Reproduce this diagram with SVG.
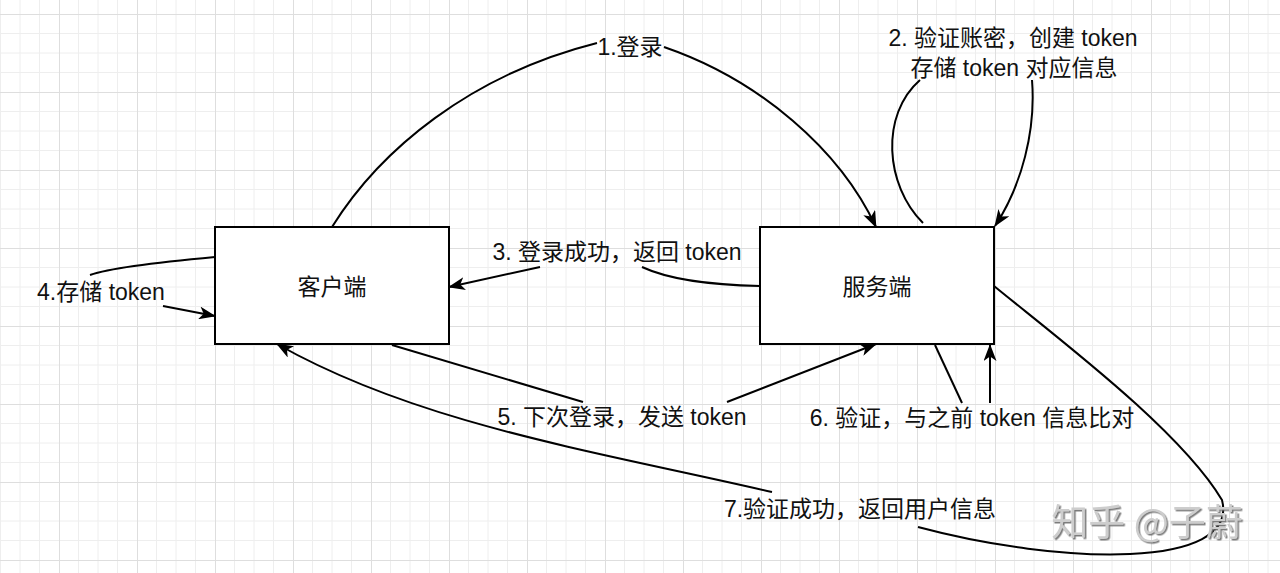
<svg xmlns="http://www.w3.org/2000/svg" width="1280" height="573" viewBox="0 0 1280 573">
<defs>
<pattern id="grid" x="59" y="14" width="78" height="78" patternUnits="userSpaceOnUse">
<path d="M19.5,0 V78 M39,0 V78 M58.5,0 V78 M0,19.5 H78 M0,39 H78 M0,58.5 H78" stroke="#eeeeee" stroke-width="1" fill="none"/>
<path d="M0.5,0 V78 M0,0.5 H78" stroke="#dedede" stroke-width="1" fill="none"/>
</pattern>
<marker id="arrow" viewBox="0 0 17 13" refX="16" refY="6.5" markerWidth="17" markerHeight="13" markerUnits="userSpaceOnUse" orient="auto">
<path d="M0,0 L17,6.5 L0,13 L4.5,6.5 z" fill="#000"/>
</marker>
<filter id="wmshadow" x="-10%" y="-20%" width="120%" height="150%">
<feDropShadow dx="1.5" dy="1.5" stdDeviation="0.5" flood-color="#6e6e6e" flood-opacity="0.9"/>
</filter>
</defs>
<style>
.node rect{fill:#fff;stroke:#000;stroke-width:2}
.lbl{font-family:"Liberation Sans","Noto Sans CJK SC",sans-serif;font-size:23px;fill:#111;text-anchor:middle}
.edge{fill:none;stroke:#000;stroke-width:2}
.arr{marker-end:url(#arrow)}
.wm{font-family:"Noto Sans CJK SC",sans-serif;font-size:37px;fill:#cdcdcd;text-anchor:middle}
</style>
<rect x="0" y="0" width="1280" height="573" fill="#fff"/>
<rect x="0" y="0" width="1280" height="573" fill="url(#grid)"/>

<g id="connectors">
<path class="edge" d="M332,227 C380,150 470,75 597,43"/>
<path class="edge arr" d="M664,47 C760,80 840,150 876,227"/>
<path class="edge" d="M923,223 C885,185 880,115 920,80"/>
<path class="edge arr" d="M1032,80 C1036,130 1022,185 995,226"/>
<path class="edge" d="M760,286 C710,285 670,280 642,267"/>
<path class="edge arr" d="M540,267 L449,287"/>
<path class="edge" d="M215,257 C160,262 110,268 90,275"/>
<path class="edge arr" d="M163,306 L215,316"/>
<path class="edge" d="M392,345 L583,402"/>
<path class="edge arr" d="M727,402 L876,344"/>
<path class="edge" d="M935,345 L962,403"/>
<path class="edge arr" d="M990,403 L990,345"/>
<path class="edge" d="M994,286 C1060,340 1180,430 1222,500 C1240,570 1060,565 918,527"/>
<path class="edge arr" d="M772,492 C600,452 420,425 277,344"/>
</g>

<g id="client" class="node">
<rect x="215" y="227" width="234" height="117"/>
<text class="lbl" x="332" y="295">客户端</text>
</g>
<g id="server" class="node">
<rect x="760" y="227" width="234" height="117"/>
<text class="lbl" x="877" y="295">服务端</text>
</g>

<g id="labels">
<text class="lbl" x="630" y="55">1.登录</text>
<text class="lbl" x="1013" y="46">2. 验证账密，创建 token</text>
<text class="lbl" x="1014" y="76">存储 token 对应信息</text>
<text class="lbl" x="617" y="260">3. 登录成功，返回 token</text>
<text class="lbl" x="101" y="300">4.存储 token</text>
<text class="lbl" x="622" y="425">5. 下次登录，发送 token</text>
<text class="lbl" x="972" y="426">6. 验证，与之前 token 信息比对</text>
<text class="lbl" x="860" y="517">7.验证成功，返回用户信息</text>
</g>

<g id="watermark">
<text class="wm" x="1147" y="536" filter="url(#wmshadow)">知乎 @子蔚</text>
</g>
</svg>
